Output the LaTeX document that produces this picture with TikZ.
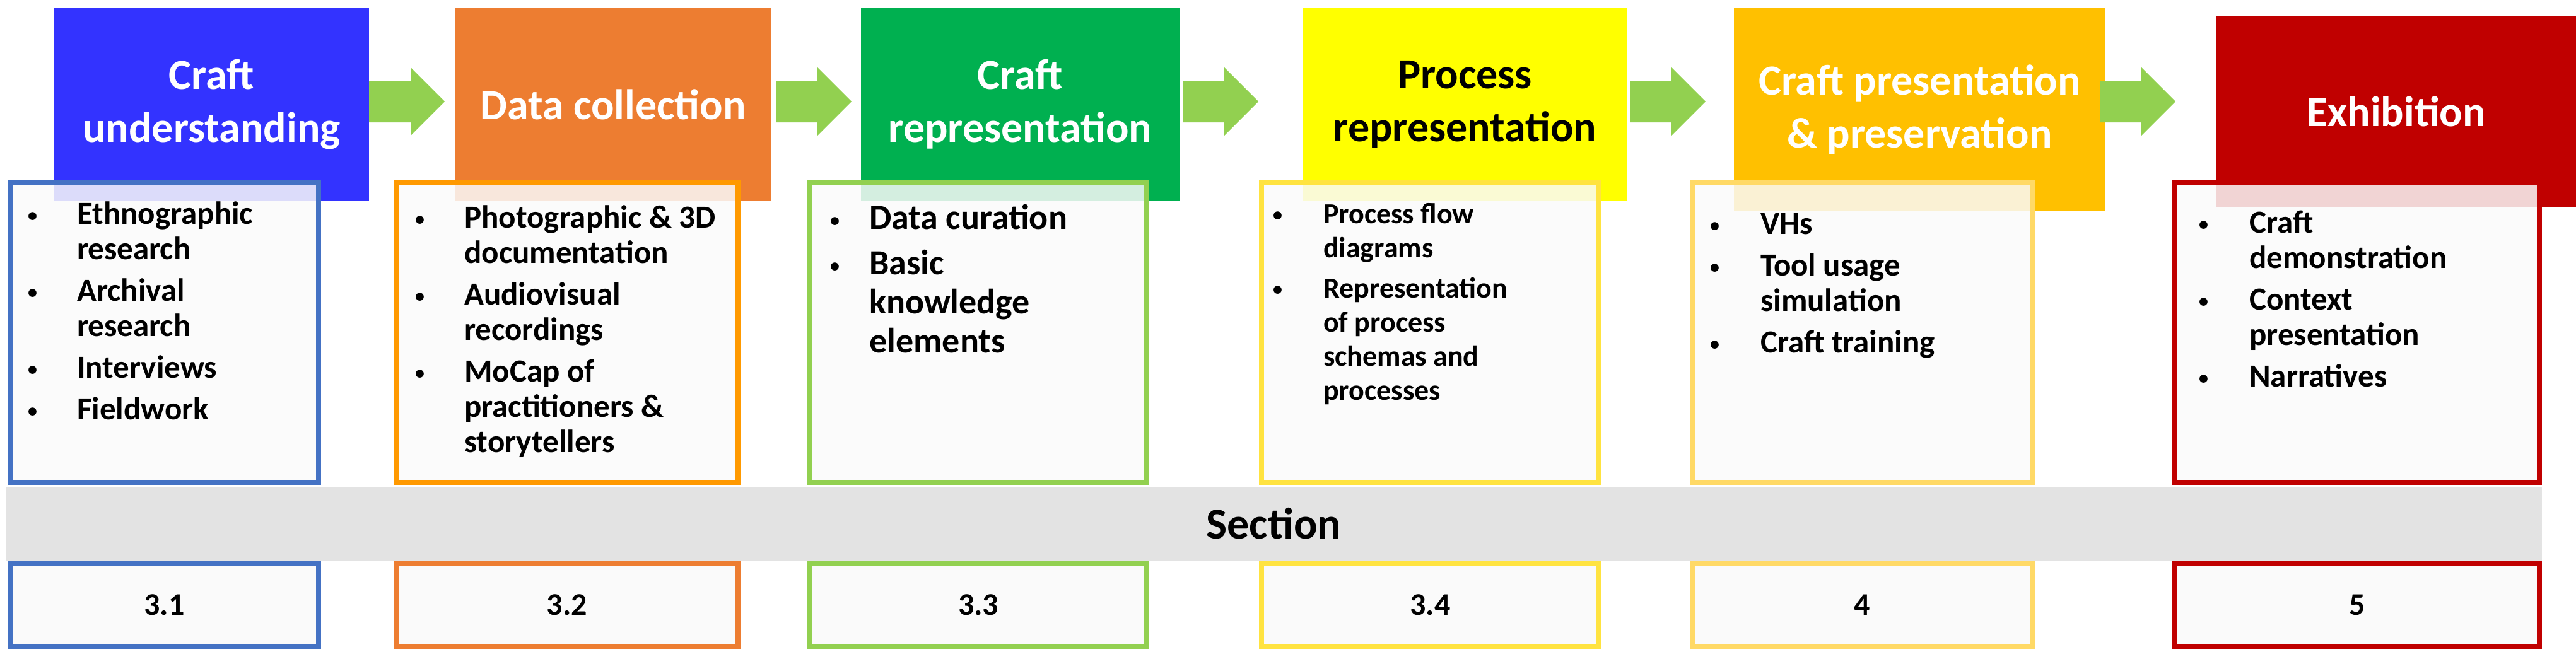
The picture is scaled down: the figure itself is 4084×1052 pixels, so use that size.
\documentclass[tikz,border=0pt]{standalone}
\usepackage{fontspec}
\setmainfont{Carlito}
\definecolor{cblue}{HTML}{3333FF}\definecolor{corange}{HTML}{ED7D31}
\definecolor{cgreen}{HTML}{00B050}\definecolor{cyellow}{HTML}{FFFF00}
\definecolor{cgold}{HTML}{FFC000}\definecolor{cred}{HTML}{C00000}
\definecolor{bblue}{HTML}{4472C4}\definecolor{borange}{HTML}{FF9900}
\definecolor{bgreen}{HTML}{92D050}\definecolor{byellow}{HTML}{FFE340}
\definecolor{bgold}{HTML}{FFD966}\definecolor{bred}{HTML}{C00000}
\definecolor{agreen}{HTML}{92D050}\definecolor{band}{HTML}{E3E3E3}
\newcommand{\bul}{\raisebox{4pt}{\fontsize{30}{30}\selectfont\textbullet}}
\newcommand{\garrow}[1]{\fill[agreen] ([shift={(-60,-33)}]#1) -- ([shift={(6,-33)}]#1) -- ([shift={(6,-54)}]#1) -- ([shift={(60,0)}]#1) -- ([shift={(6,54)}]#1) -- ([shift={(6,33)}]#1) -- ([shift={(-60,33)}]#1) -- cycle;}
\begin{document}
\begin{tikzpicture}[x=1pt,y=-1pt,
 head/.style={draw=none,inner sep=0,minimum height=307,align=center,text=white,font=\fontsize{68}{84}\selectfont\bfseries},
 box/.style={line width=8,fill=white!98!black,fill opacity=0.85,text opacity=1,minimum height=475,inner sep=0},
 num/.style={line width=8,fill=white!98!black,minimum height=131,inner sep=0,font=\fontsize{50}{56}\selectfont\bfseries},
 items/.style={anchor=north west,inner sep=0,font=\fontsize{51}{56}\selectfont\bfseries}]
\useasboundingbox (0,0) rectangle (4084,1052);
% headers
\node[head,fill=cblue,minimum width=499] (h1) at (335.5,165.5) {Craft\\understanding};
\node[head,fill=corange,minimum width=502] (h2) at (972,165.5) {Data collection};
\node[head,fill=cgreen,minimum width=505] (h3) at (1617.5,165.5) {Craft\\representation};
\node[head,fill=cyellow,minimum width=513,text=black] (h4) at (2322.5,165.5) {Process\\representation};
\node[head,fill=cgold,minimum width=589,minimum height=323] (h5) at (3043.5,173.5) {Craft presentation\\\& preservation};
\node[head,fill=cred,minimum width=570,minimum height=304] (h6) at (3799,177) {Exhibition};
% arrows
\coordinate (a1) at (645,161);
\coordinate (a2) at (1290,161);
\coordinate (a3) at (1935,161);
\coordinate (a4) at (2644,161);
\coordinate (a5) at (3389,161);
\garrow{a1}\garrow{a2}\garrow{a3}\garrow{a4}\garrow{a5}
% bullet boxes
\node[box,draw=bblue,minimum width=489] (b1) at (260.5,527.5) {};
\node[box,draw=borange,minimum width=542] (b2) at (899,527.5) {};
\node[box,draw=bgreen,minimum width=534] (b3) at (1551,527.5) {};
\node[box,draw=byellow,minimum width=535] (b4) at (2267.5,527.5) {};
\node[box,draw=bgold,minimum width=539] (b5) at (2952.5,527.5) {};
\node[box,draw=bred,minimum width=578] (b6) at (3737,527.5) {};
\node[items] (t1) at ([xshift=32,yshift=-30]b1.north west) {\begin{tabular}{@{}p{78pt}@{}l@{}}
\bul & Ethnographic\\ & research\\[10pt] \bul & Archival\\ & research\\[10pt] \bul & Interviews\\[10pt] \bul & Fieldwork\end{tabular}};
\node[items] (t2) at ([xshift=34,yshift=-36]b2.north west) {\begin{tabular}{@{}p{78pt}@{}l@{}}
\bul & Photographic \& 3D\\ & documentation\\[10pt] \bul & Audiovisual\\ & recordings\\[10pt] \bul & MoCap of\\ & practitioners \&\\ & storytellers\end{tabular}};
\node[items,font=\fontsize{56}{62}\selectfont\bfseries] (t3) at ([xshift=36,yshift=-34]b3.north west) {\begin{tabular}{@{}p{62pt}@{}l@{}}
\bul & Data curation\\[10pt] \bul & Basic\\ & knowledge\\ & elements\end{tabular}};
\node[items,font=\fontsize{46}{54}\selectfont\bfseries] (t4) at ([xshift=22,yshift=-30]b4.north west) {\begin{tabular}{@{}p{80pt}@{}l@{}}
\bul & Process flow\\ & diagrams\\[10pt] \bul & Representation\\ & of process\\ & schemas and\\ & processes\end{tabular}};
\node[items] (t5) at ([xshift=32,yshift=-46]b5.north west) {\begin{tabular}{@{}p{80pt}@{}l@{}}
\bul & VHs\\[10pt] \bul & Tool usage\\ & simulation\\[10pt] \bul & Craft training\end{tabular}};
\node[items] (t6) at ([xshift=42,yshift=-44]b6.north west) {\begin{tabular}{@{}p{80pt}@{}l@{}}
\bul & Craft\\ & demonstration\\[10pt] \bul & Context\\ & presentation\\[10pt] \bul & Narratives\end{tabular}};
% section band
\node[fill=band,minimum width=4021,minimum height=117,inner sep=0,font=\fontsize{70}{76}\selectfont\bfseries] (sec) at (2019.5,830.5) {Section};
% numbers
\node[num,draw=bblue,minimum width=489] (n1) at (260.5,959.5) {3.1};
\node[num,draw=corange,minimum width=542] (n2) at (899,959.5) {3.2};
\node[num,draw=bgreen,minimum width=534] (n3) at (1551,959.5) {3.3};
\node[num,draw=byellow,minimum width=535] (n4) at (2267.5,959.5) {3.4};
\node[num,draw=bgold,minimum width=539] (n5) at (2952.5,959.5) {4};
\node[num,draw=bred,minimum width=578] (n6) at (3737,959.5) {5};
\end{tikzpicture}
\end{document}
